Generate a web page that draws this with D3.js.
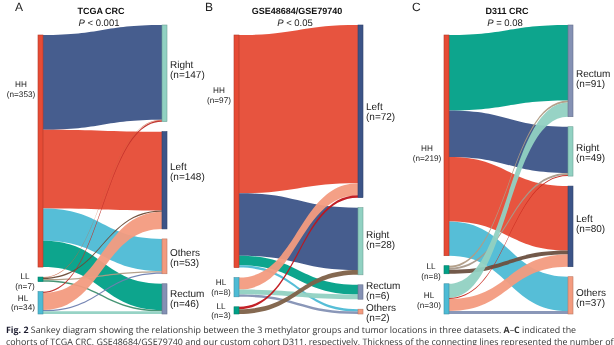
<!DOCTYPE html>
<html><head><meta charset="utf-8">
<script src="https://cdn.jsdelivr.net/npm/d3@7"></script>
<style>body{margin:0;background:#fff}svg{display:block;will-change:transform}text{text-rendering:geometricPrecision}</style>
</head><body>
<svg id="c" width="614" height="345"></svg>
<script>
// ---------- DATA ----------
const panelLetters = ["A", "B", "C"];
const titles = ["TCGA CRC", "GSE48684/GSE79740", "D311 CRC"];
const pOps = ["< 0.001", "< 0.05", "= 0.08"];

const groupsA = ["HH", "LL", "HL"];
const locsA = ["Right", "Left", "Others", "Rectum"];
const linksA = [
  ["HH", "Right", 144], ["HH", "Left", 120], ["HH", "Others", 49], ["HH", "Rectum", 40],
  ["LL", "Right", 1], ["LL", "Left", 2], ["LL", "Others", 2], ["LL", "Rectum", 2],
  ["HL", "Right", 2], ["HL", "Left", 26], ["HL", "Others", 2], ["HL", "Rectum", 4]
];

const groupsB = ["HH", "HL", "LL"];
const locsB = ["Left", "Right", "Rectum", "Others"];
const linksB = [
  ["HH", "Left", 66], ["HH", "Right", 26], ["HH", "Rectum", 4], ["HH", "Others", 1],
  ["HL", "Left", 5], ["HL", "Rectum", 2], ["HL", "Others", 1],
  ["LL", "Left", 1], ["LL", "Right", 2]
];

const groupsC = ["HH", "LL", "HL"];
const locsC = ["Rectum", "Right", "Left", "Others"];
const linksC = [
  ["HH", "Rectum", 75], ["HH", "Right", 46], ["HH", "Left", 64], ["HH", "Others", 34],
  ["LL", "Rectum", 2], ["LL", "Right", 2], ["LL", "Left", 4],
  ["HL", "Rectum", 14], ["HL", "Right", 1], ["HL", "Left", 12], ["HL", "Others", 3]
];

const captionLine1 = ["Fig. 2", " Sankey diagram showing the relationship between the 3 methylator groups and tumor locations in three datasets. ", "A", "–", "C", " indicated the"];
const captionLine2 = "cohorts of TCGA CRC, GSE48684/GSE79740 and our custom cohort D311, respectively. Thickness of the connecting lines represented the number of";

// ---------- STYLES ----------
const nodeColor = {
  HH: "#E64B35", LL: "#00A087", HL: "#4DBBD5",
  Right: "#91D1C2", Left: "#3C5488", Others: "#F39B7F", Rectum: "#8491B4"
};
const linkColors = [
  { "HH-Right": "#3C5488", "HH-Left": "#E64B35", "HH-Others": "#4DBBD5", "HH-Rectum": "#00A087",
    "LL-Right": "#CC6440", "LL-Left": "#6B4A36", "LL-Others": "#B09C85", "LL-Rectum": "#3D8F6E",
    "HL-Right": "#C0302A", "HL-Left": "#F39B7F", "HL-Others": "#6F7FB0", "HL-Rectum": "#91D1C2" },
  { "HH-Left": "#E64B35", "HH-Right": "#3C5488", "HH-Rectum": "#00A087", "HH-Others": "#4DBBD5",
    "HL-Left": "#F39B7F", "HL-Rectum": "#91D1C2", "HL-Others": "#8491B4",
    "LL-Left": "#C0141A", "LL-Right": "#7E6148" },
  { "HH-Rectum": "#00A087", "HH-Right": "#3C5488", "HH-Left": "#E64B35", "HH-Others": "#4DBBD5",
    "LL-Rectum": "#B09C85", "LL-Right": "#A8998A", "LL-Left": "#6B5040",
    "HL-Rectum": "#91D1C2", "HL-Right": "#C8281E", "HL-Left": "#F39B7F", "HL-Others": "#8491B4" }
];

const panels = [
  { groups: groupsA, locs: locsA, links: linksA },
  { groups: groupsB, locs: locsB, links: linksB },
  { groups: groupsC, locs: locsC, links: linksC }
];

// ---------- LAYOUT ----------
const topY = 25, bottomY = 314, pad = 10, nodeW = 5, colGap = 124;
const panelX = [38, 234, 444];
const letterX = [15, 205, 412];
const labelShift = [
  { HH: -62, LL: 2, HL: 0, Right: -4, Left: -9, Others: 1, Rectum: 0 },
  { HH: -56, HL: 0, LL: 0, Left: 0, Right: -2, Rectum: -2, Others: 1 },
  { HH: 7.5, LL: 1.5, HL: 1, Rectum: 7.5, Right: 1, Left: -3, Others: 2 }
];
const textFont = "'Liberation Sans', Arial, sans-serif";

const svg = d3.select("#c");
svg.append("rect").attr("width", 614).attr("height", 345).attr("fill", "#fff");

panels.forEach((p, i) => {
  const g = svg.append("g");
  const total = d3.sum(p.links, d => d[2]);
  const maxN = Math.max(p.groups.length, p.locs.length);
  const ky = d3.scaleLinear().domain([0, total]).range([0, (bottomY - topY) - (maxN - 1) * pad]);
  const x = d3.scaleOrdinal().domain(["src", "tgt"]).range([panelX[i], panelX[i] + colGap]);

  const nodes = {};
  function layoutCol(names, side) {
    const idx = side === "src" ? 0 : 1;
    const vals = names.map(n => d3.sum(p.links.filter(l => l[idx] === n), l => l[2]));
    const h = d3.sum(vals, v => ky(v)) + (names.length - 1) * pad;
    let y = side === "src" ? bottomY - h : topY;
    names.forEach((n, j) => {
      const hh = ky(vals[j]);
      nodes[side + n] = { name: n, side, value: vals[j], x0: x(side), y0: y, y1: y + hh };
      y += hh + pad;
    });
  }
  layoutCol(p.groups, "src");
  layoutCol(p.locs, "tgt");

  const links = p.links.map(l => ({ s: l[0], t: l[1], v: l[2] }));
  p.groups.forEach(s => {
    let y = nodes["src" + s].y0;
    p.locs.forEach(t => {
      const l = links.find(k => k.s === s && k.t === t);
      if (l) { l.sy0 = y; y += ky(l.v); l.sy1 = y; }
    });
  });
  p.locs.forEach(t => {
    let y = nodes["tgt" + t].y0;
    p.groups.forEach(s => {
      const l = links.find(k => k.s === s && k.t === t);
      if (l) { l.ty0 = y; y += ky(l.v); l.ty1 = y; }
    });
  });

  const x0 = x("src") + nodeW, x1 = x("tgt"), xm = (x0 + x1) / 2;
  const ordered = [];
  p.groups.forEach(s => p.locs.forEach(t => {
    const l = links.find(k => k.s === s && k.t === t); if (l) ordered.push(l);
  }));
  g.selectAll("path.link").data(ordered).join("path")
    .attr("class", "link")
    .attr("d", l => {
      const pth = d3.path();
      pth.moveTo(x0, l.sy0);
      pth.bezierCurveTo(xm, l.sy0, xm, l.ty0, x1, l.ty0);
      pth.lineTo(x1, l.ty1);
      pth.bezierCurveTo(xm, l.ty1, xm, l.sy1, x0, l.sy1);
      pth.closePath();
      return pth.toString();
    })
    .attr("fill", l => linkColors[i][l.s + "-" + l.t])
    .attr("fill-opacity", 0.95);

  const nodeArr = Object.values(nodes);
  g.selectAll("rect.node").data(nodeArr).join("rect")
    .attr("class", "node")
    .attr("x", d => d.x0).attr("y", d => d.y0)
    .attr("width", nodeW).attr("height", d => Math.max(0.5, d.y1 - d.y0))
    .attr("fill", d => nodeColor[d.name])
    .attr("stroke", d => d3.color(nodeColor[d.name]).darker(0.7))
    .attr("stroke-width", 0.6);

  nodeArr.forEach(d => {
    const cy = (d.y0 + d.y1) / 2 + (labelShift[i][d.name] || 0);
    const lines = [d.name, "(n=" + d.value + ")"];
    if (d.side === "tgt") {
      const fs = 10, lh = 10;
      lines.forEach((t, k) => {
        g.append("text").attr("x", d.x0 + nodeW + 3).attr("y", Math.round(cy + (k - 0.5) * lh + 3.5))
          .attr("font-size", fs).attr("font-family", textFont)
          .attr("fill", "#222").text(t);
      });
    } else {
      const fs = 8.2, lh = 9.5;
      const ts = lines.map((t, k) => g.append("text").attr("y", Math.round(cy + (k - 0.5) * lh + 2.9))
        .attr("font-size", fs).attr("font-family", textFont)
        .attr("fill", "#222").attr("text-anchor", "middle").text(t));
      const wmax = d3.max(ts, t => t.node().getComputedTextLength());
      const right = d.x0 - 3;
      ts.forEach(t => t.attr("x", Math.round(right - wmax / 2)));
    }
  });

  const tx = Math.round((x("src") + x("tgt") + nodeW) / 2 - 2);
  g.append("text").attr("x", tx).attr("y", 14).attr("text-anchor", "middle")
    .attr("font-family", textFont).attr("font-weight", "bold").attr("font-size", 9)
    .attr("fill", "#111").text(titles[i]);
  const pt = g.append("text").attr("x", tx - 2).attr("y", 25.5).attr("text-anchor", "middle")
    .attr("font-family", textFont).attr("font-size", 9.5).attr("fill", "#222");
  pt.append("tspan").attr("font-style", "italic").text("P");
  pt.append("tspan").text(" " + pOps[i]);

  svg.append("text").attr("x", letterX[i]).attr("y", 11).attr("font-family", textFont)
    .attr("font-size", 12).attr("fill", "#222").text(panelLetters[i]);
});

// caption
const capFont = "'Open Sans', 'Noto Sans', sans-serif";
const cap = svg.append("text").attr("x", 6).attr("y", 332.5).attr("font-family", capFont)
  .attr("font-size", 8.9).attr("fill", "#333");
captionLine1.forEach((t, k) => {
  cap.append("tspan").attr("font-weight", (k === 0 || k === 2 || k === 4) ? "bold" : "normal")
    .attr("fill", k === 0 ? "#1a1a2e" : "#333").text(t);
});
svg.append("text").attr("x", 6).attr("y", 345).attr("font-family", capFont)
  .attr("font-size", 8.9).attr("fill", "#333").text(captionLine2);
</script>
</body></html>
